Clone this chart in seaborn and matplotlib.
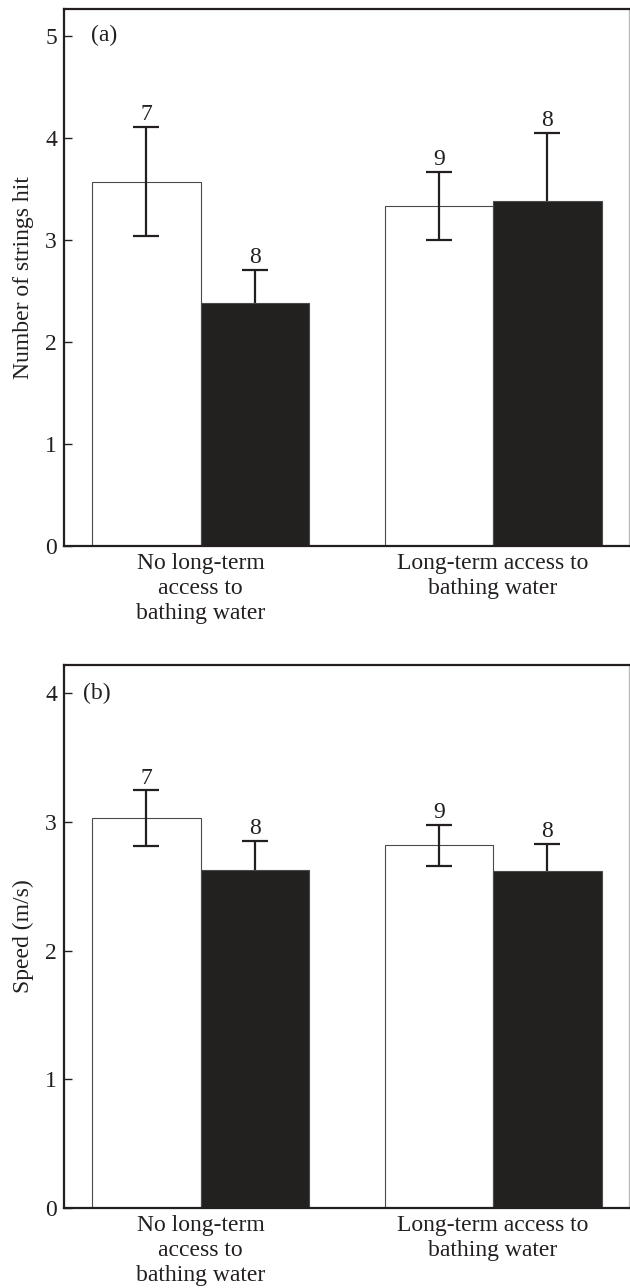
import matplotlib
matplotlib.use("Agg")
import matplotlib.pyplot as plt
import matplotlib.transforms as mtransforms
from matplotlib.container import BarContainer
import seaborn as sns
import pandas as pd

sns.set_style("white")
plt.rcParams['font.family'] = ['Liberation Serif', 'DejaVu Serif']

# ---- data ----
groups = ["No long-term\naccess to\nbathing water", "Long-term access to\nbathing water"]
treatments = ["open", "filled"]

strings_open = [3.57, 3.33]
strings_filled = [2.38, 3.375]
strings_err_open = [0.53, 0.335]
strings_err_filled = [0.32, 0.675]

speed_open = [3.03, 2.82]
speed_filled = [2.63, 2.62]
speed_err_open = [0.215, 0.16]
speed_err_filled = [0.225, 0.21]

n_open = [7, 9]
n_filled = [8, 8]

yticks_a = [0, 1, 2, 3, 4, 5]
yticks_b = [0, 1, 2, 3, 4]

DARK = "#231f20"
FS = 17

fig = plt.figure(figsize=(6.3, 12.88), dpi=100)
ax_a = fig.add_axes([64/630, 1-546/1288, 565/630, 537/1288])
ax_b = fig.add_axes([64/630, 1-1208/1288, 565/630, 543/1288])


def panel(ax, vals_open, vals_filled, err_open, err_filled, ylabel, yticks, ylim, tag):
    df = pd.DataFrame({
        "group": groups * 2,
        "treatment": [treatments[0]] * 2 + [treatments[1]] * 2,
        "value": list(vals_open) + list(vals_filled),
    })
    sns.barplot(data=df, x="group", y="value", hue="treatment", order=groups,
                hue_order=treatments, palette={"open": "white", "filled": DARK},
                edgecolor="#4a4a4a", linewidth=0.8, width=0.742, gap=0,
                errorbar=None, legend=False, ax=ax)
    errs = [err_open, err_filled]
    ns = [n_open, n_filled]
    vals = [vals_open, vals_filled]
    bar_conts = [c for c in ax.containers if isinstance(c, BarContainer)]
    for i, cont in enumerate(bar_conts):
        for j, bar in enumerate(cont.patches):
            bar.set_zorder(2)
            xc = bar.get_x() + bar.get_width() / 2
            v = vals[i][j]
            e = errs[i][j]
            ax.errorbar([xc], [v], yerr=[e], fmt="none", ecolor=DARK,
                        elinewidth=1.6, capsize=9.7, capthick=1.6,
                        zorder=3 if i == 0 else 1)
            ax.annotate(str(ns[i][j]), xy=(xc, v + e), xytext=(0, 5),
                        textcoords="offset points", ha="center", va="baseline",
                        fontsize=FS, color=DARK)
    ax.set_xlim(-0.467, 1.465)
    ax.set_ylim(*ylim)
    ax.set_yticks(yticks)
    ax.set_yticklabels([str(t) for t in yticks])
    ax.set_xlabel("")
    ax.set_ylabel(ylabel, fontsize=FS, color=DARK, labelpad=8)
    ax.tick_params(axis="y", direction="in", length=6, width=1.0, color=DARK,
                   labelsize=FS, labelcolor=DARK, pad=5, left=True)
    ax.tick_params(axis="x", length=0, labelsize=FS, labelcolor=DARK, pad=5)
    for lbl in ax.get_xticklabels():
        lbl.set_linespacing(1.25)
    for side in ["left", "bottom", "top"]:
        ax.spines[side].set_visible(True)
        ax.spines[side].set_color(DARK)
        ax.spines[side].set_linewidth(1.6)
    ax.spines["right"].set_visible(True)
    ax.spines["right"].set_color("#bbbbbb")
    ax.spines["right"].set_linewidth(1.0)
    trans = mtransforms.blended_transform_factory(ax.transAxes, ax.transData)
    ax.text(tag[1], yticks[-1], tag[0], transform=trans, ha="left", va="center",
            fontsize=FS, color=DARK)


panel(ax_a, strings_open, strings_filled, strings_err_open, strings_err_filled,
      "Number of strings hit", yticks_a, (0, 5.26), ("(a)", 0.048))
panel(ax_b, speed_open, speed_filled, speed_err_open, speed_err_filled,
      "Speed (m/s)", yticks_b, (0, 4.22), ("(b)", 0.033))

fig.savefig("out.png", dpi=100)
